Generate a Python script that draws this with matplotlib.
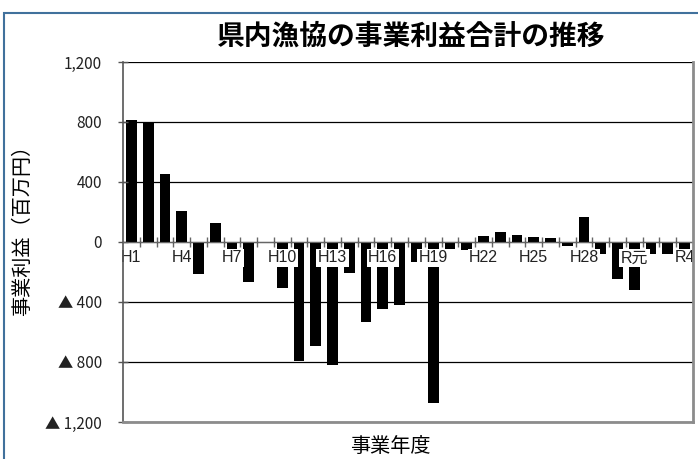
import numpy as np
import matplotlib
matplotlib.use("Agg")
import matplotlib.pyplot as plt
from matplotlib.patches import Rectangle
from matplotlib.lines import Line2D

plt.rcParams['font.family'] = ['Liberation Sans', 'Noto Sans CJK JP', 'DejaVu Sans']

# 事業年度 (平成元年〜令和4年)
years = [f"H{i}" for i in range(1, 31)] + ["R元", "R2", "R3", "R4"]

# 事業利益合計（百万円）
profit = [815, 800, 453, 207, -215, 125, -72, -267, -4, -309,
          -793, -691, -820, -209, -536, -444, -420, -131, -1076, -47,
          -53, 38, 67, 45, 31, 25, -27, 167, -80, -247,
          -320, -77, -80, -77]

label_step = 3
y_ticks = [-1200, -800, -400, 0, 400, 800, 1200]
y_tick_labels = ["▲ 1,200", "▲ 800", "▲ 400", "0", "400", "800", "1,200"]

title = "県内漁協の事業利益合計の推移"
x_title = "事業年度"
y_title = "事業利益（百万円）"

W, H = 698, 459
fig = plt.figure(figsize=(W / 100, H / 100), dpi=100)
ax = fig.add_axes([123 / W, 1 - 422 / H, (693 - 123) / W, (422 - 62) / H])

x = np.arange(len(years))
ax.bar(x, profit, width=0.64, color="black", zorder=1)

ax.set_xlim(-0.5, len(years) - 0.5)
ax.set_ylim(y_ticks[0], y_ticks[-1])

# y axis
ax.set_yticks(y_ticks)
ylabels = ax.set_yticklabels(y_tick_labels, fontsize=11, color="#222222")
for lbl in ylabels:
    lbl.set_family(["Noto Sans CJK JP", "DejaVu Sans"])
ax.tick_params(axis="y", direction="inout", length=7, width=1,
               color="#555555", pad=11.5)
ax.grid(axis="y", color="black", linewidth=0.9)

# x axis through zero with boundary ticks
ax.spines["bottom"].set_position(("data", 0))
ax.spines["bottom"].set_color("#666666")
ax.spines["left"].set_color("#555555")
ax.spines["left"].set_linewidth(1.2)
ax.spines["top"].set_visible(False)
ax.spines["right"].set_visible(False)

ax.set_xticks(x[::label_step])
labels = ax.set_xticklabels(years[::label_step], fontsize=11.5, color="#222222")
ax.set_xticks(np.arange(0.5, len(years) - 0.5, 1), minor=True)
ax.tick_params(axis="x", which="major", length=0, pad=6)
ax.tick_params(axis="x", which="minor", direction="inout", length=7,
               width=1, color="#666666")
for lbl in labels:
    lbl.set_bbox(dict(facecolor="white", edgecolor="none", pad=1.0))

# plot-area frame on the right and bottom
ax.add_line(Line2D([0, 1], [0, 0], transform=ax.transAxes, color="#8c8c8c",
                   lw=2.0, zorder=3, clip_on=False))
ax.add_line(Line2D([1, 1], [0, 1], transform=ax.transAxes, color="#8c8c8c",
                   lw=2.0, zorder=3, clip_on=False))

# titles
fig.text(411 / W, 1 - 37 / H, title, fontsize=20, fontweight="bold",
         ha="center", va="center", family=["Noto Sans CJK JP"])
fig.text(390 / W, 1 - 447 / H, x_title, fontsize=14.5,
         ha="center", va="center", family=["Noto Sans CJK JP"])
fig.text(23 / W, 1 - 225 / H, y_title, fontsize=14.5, rotation=90,
         ha="center", va="center", family=["Noto Sans CJK JP"])

# chart-area border
fig.patches.append(Rectangle((4 / W, -0.05), 1.2, (1 - 13 / H) + 0.05,
                             transform=fig.transFigure, fill=False,
                             edgecolor="#41719c", linewidth=1.5))

fig.savefig("out.png", dpi=100)
